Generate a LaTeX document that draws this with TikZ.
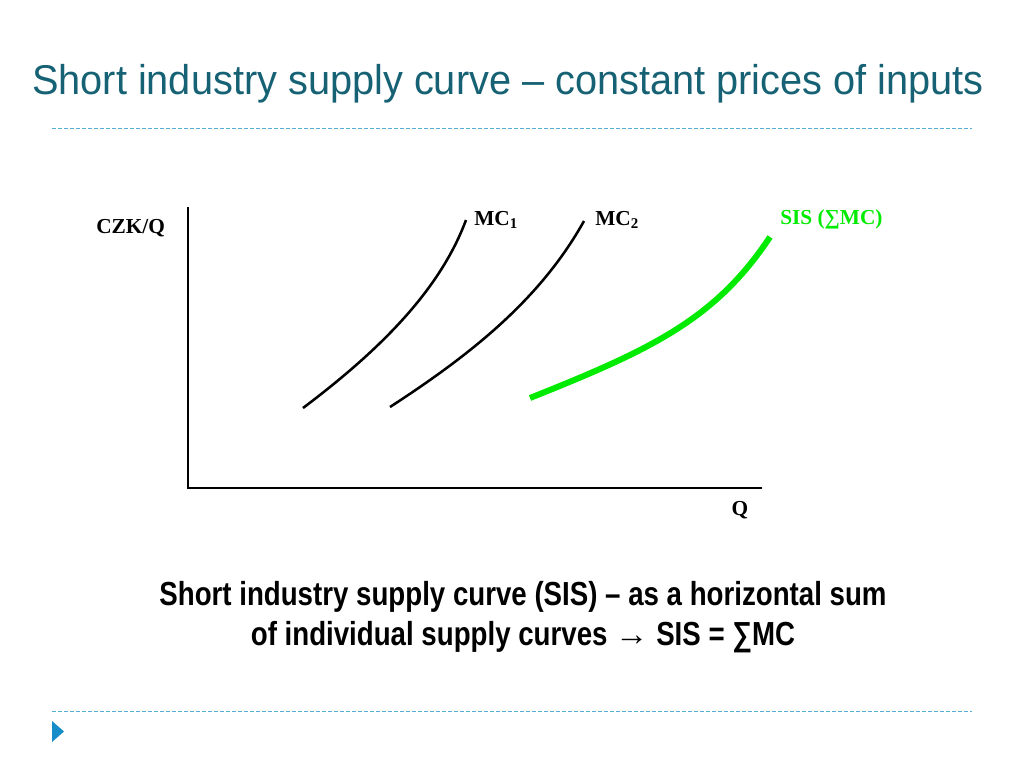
\documentclass[tikz,border=0pt]{standalone}
\usepackage{fontspec}
\setmainfont{Liberation Serif}
\newfontfamily\titlefont[FakeStretch=0.955]{Liberation Sans}
\newfontfamily\narrowfont[FakeStretch=0.83]{Liberation Sans}
\definecolor{titleteal}{RGB}{22,98,116}
\definecolor{dashblue}{RGB}{80,175,210}
\definecolor{bullblue}{RGB}{22,140,200}
\definecolor{sisgreen}{RGB}{0,235,0}
\tikzset{
  axis/.style={line width=2pt},
  mccurve/.style={line width=1.9pt},
  siscurve/.style={line width=4.5pt,draw=sisgreen},
  rule/.style={dash pattern=on 3pt off 1.5pt,draw=dashblue,line width=0.7pt},
  lbl/.style={font=\fontsize{16}{18}\selectfont\bfseries,inner sep=0pt},
}
\begin{document}
\begin{tikzpicture}[x=0.75pt,y=-0.75pt]
\useasboundingbox[fill=white] (0,0) rectangle (1024,768);
% title
\node[text=titleteal,font=\titlefont\fontsize{31.2}{34}\selectfont,inner sep=0pt] (title) at (508,84) {Short industry supply curve – constant prices of inputs};
% dashed rules
\coordinate (r1a) at (52,128); \coordinate (r1b) at (972,128);
\coordinate (r2a) at (52,711); \coordinate (r2b) at (972,711);
\draw[rule] (r1a) -- (r1b);
\draw[rule] (r2a) -- (r2b);
% bullet triangle
\fill[bullblue] (52,721) -- (64,731.5) -- (52,742) -- cycle;
% axes
\coordinate (top) at (188,207);
\coordinate (orig) at (188,488);
\coordinate (right) at (762,488);
\draw[axis] (top) -- (orig) -- (right);
% curves
\coordinate (mc1s) at (303,408); \coordinate (mc1e) at (466,220);
\coordinate (mc2s) at (390,407); \coordinate (mc2e) at (584,221);
\coordinate (siss) at (530,398); \coordinate (sise) at (770,237);
\draw[mccurve] (mc1s) .. controls (380,350) and (440,290) .. (mc1e);
\draw[mccurve] (mc2s) .. controls (470,355) and (540,300) .. (mc2e);
\draw[siscurve] (siss) .. controls (650,350) and (715,320) .. (sise);
% labels
\node[lbl,anchor=west] (czk) at (96,228) {CZK/Q};
\node[lbl,anchor=west] (mc1) at (474,220) {MC\textsubscript{1}};
\node[lbl,anchor=west] (mc2) at (595,220) {MC\textsubscript{2}};
\node[lbl,anchor=west,text=sisgreen] (sis) at (780,219) {SIS (∑MC)};
\node[lbl] (q) at (740,510) {Q};
% bottom text
\node[font=\narrowfont\bfseries\fontsize{25}{30}\selectfont,align=center,inner sep=0pt] (caption) at (523,617) {Short industry supply curve (SIS) – as a horizontal sum\\of individual supply curves {\rmfamily\mdseries →} SIS = ∑MC};
\end{tikzpicture}
\end{document}
